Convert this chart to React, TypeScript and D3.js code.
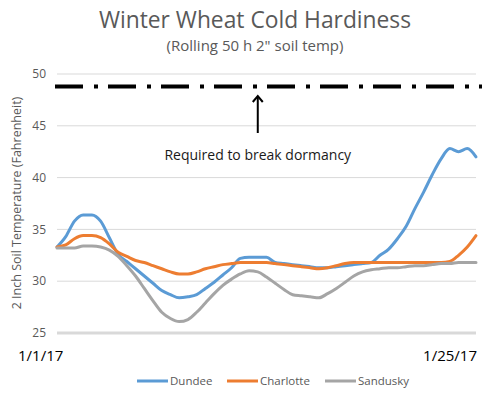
import React from 'react';
import * as d3 from 'd3';

// half-day samples, 1/1/17 .. 1/25/17
const days = d3.range(0, 24.5, 0.5);

const dundee = [
  33.3, 34.3, 35.8, 36.4, 36.4, 35.8, 34.2, 32.6, 31.9, 31.2,
  30.5, 29.8, 29.1, 28.7, 28.4, 28.5, 28.7, 29.3, 29.9, 30.6,
  31.3, 32.2, 32.3, 32.3, 32.3, 31.8, 31.7, 31.6, 31.5, 31.4,
  31.3, 31.3, 31.4, 31.5, 31.6, 31.7, 31.8, 32.5, 33.1, 34.1,
  35.3, 37.0, 38.6, 40.3, 41.8, 42.8, 42.5, 42.8, 42.0,
];
const charlotte = [
  33.3, 33.5, 34.1, 34.4, 34.4, 34.2, 33.6, 32.8, 32.4, 32.0,
  31.8, 31.5, 31.2, 30.9, 30.7, 30.7, 30.9, 31.2, 31.4, 31.6,
  31.7, 31.8, 31.8, 31.8, 31.8, 31.7, 31.6, 31.5, 31.4, 31.3,
  31.2, 31.3, 31.5, 31.7, 31.8, 31.8, 31.8, 31.8, 31.8, 31.8,
  31.8, 31.8, 31.8, 31.8, 31.8, 31.9, 32.5, 33.3, 34.4,
];
const sandusky = [
  33.2, 33.2, 33.2, 33.4, 33.4, 33.3, 33.0, 32.4, 31.5, 30.5,
  29.3, 28.1, 27.0, 26.4, 26.1, 26.3, 27.0, 27.9, 28.8, 29.6,
  30.2, 30.7, 31.0, 30.9, 30.4, 29.8, 29.2, 28.7, 28.6, 28.5,
  28.4, 28.8, 29.3, 29.9, 30.5, 30.9, 31.1, 31.2, 31.3, 31.3,
  31.4, 31.5, 31.5, 31.6, 31.7, 31.7, 31.8, 31.8, 31.8,
];

const seriesNames = ['Dundee', 'Charlotte', 'Sandusky'];
const seriesColors = ['#5B9BD5', '#ED7D31', '#A5A5A5'];
const yTicks = [25, 30, 35, 40, 45, 50];
const xLabels = ['1/1/17', '1/25/17'];
const dormancy = 48.8;

const font = "'Open Sans', sans-serif";

export default function App() {
  const x = d3.scaleLinear().domain([0, 24]).range([57, 476]);
  const y = d3.scaleLinear().domain([25, 50]).range([333, 74]);
  const all = [dundee, charlotte, sandusky];

  const line = d3.line<number>()
    .x((_, i) => x(days[i]))
    .y(d => y(d))
    .curve(d3.curveMonotoneX);

  const arrowX = x(11.5);

  return (
    <svg width={500} height={394} style={{ position: 'absolute', left: 0, top: 0, background: '#fff' }}>
      <text x={255} y={28} textAnchor="middle" fontFamily={font} fontSize={22.8} fill="#595959">
        Winter Wheat Cold Hardiness
      </text>
      <text x={255} y={51} textAnchor="middle" fontFamily={font} fontSize={15} fill="#595959">
        (Rolling 50 h 2" soil temp)
      </text>

      {yTicks.map(t => (
        <g key={t}>
          <line x1={57} x2={476} y1={y(t)} y2={y(t)}
            stroke="#D9D9D9" strokeWidth={t === 25 ? 3 : 1} />
          <text x={46} y={y(t)} dy="0.35em" textAnchor="end" fontFamily={font} fontSize={12} fill="#595959">
            {t}
          </text>
        </g>
      ))}

      <text transform={`translate(21,${203}) rotate(-90)`} textAnchor="middle"
        fontFamily={font} fontSize={12.5} fill="#595959">
        2 Inch Soil Temperature (Fahrenheit)
      </text>

      <line x1={55} x2={482} y1={y(dormancy)} y2={y(dormancy)}
        stroke="#000" strokeWidth={4} strokeDasharray="28,11,4,10" />

      <line x1={arrowX} x2={arrowX} y1={97} y2={133} stroke="#000" strokeWidth={2} />
      <path d={`M${arrowX - 5},${102} L${arrowX},${96} L${arrowX + 5},${102}`}
        fill="none" stroke="#000" strokeWidth={2} />
      <text x={arrowX} y={160} textAnchor="middle" fontFamily={font} fontSize={14} fill="#1a1a1a">
        Required to break dormancy
      </text>

      {all.map((s, i) => (
        <path key={seriesNames[i]} d={line(s) ?? ''} fill="none"
          stroke={seriesColors[i]} strokeWidth={3} strokeLinejoin="round" strokeLinecap="round" />
      ))}

      <text x={18} y={361} fontFamily={font} fontSize={15} fill="#000">{xLabels[0]}</text>
      <text x={477} y={361} textAnchor="end" fontFamily={font} fontSize={15} fill="#000">{xLabels[1]}</text>

      {seriesNames.map((n, i) => {
        const lx = [137, 227, 325][i];
        return (
          <g key={n}>
            <line x1={lx} x2={lx + 31} y1={381} y2={381} stroke={seriesColors[i]} strokeWidth={3} />
            <text x={lx + 33} y={381} dy="0.35em" fontFamily={font} fontSize={11.5} fill="#595959">{n}</text>
          </g>
        );
      })}
    </svg>
  );
}
